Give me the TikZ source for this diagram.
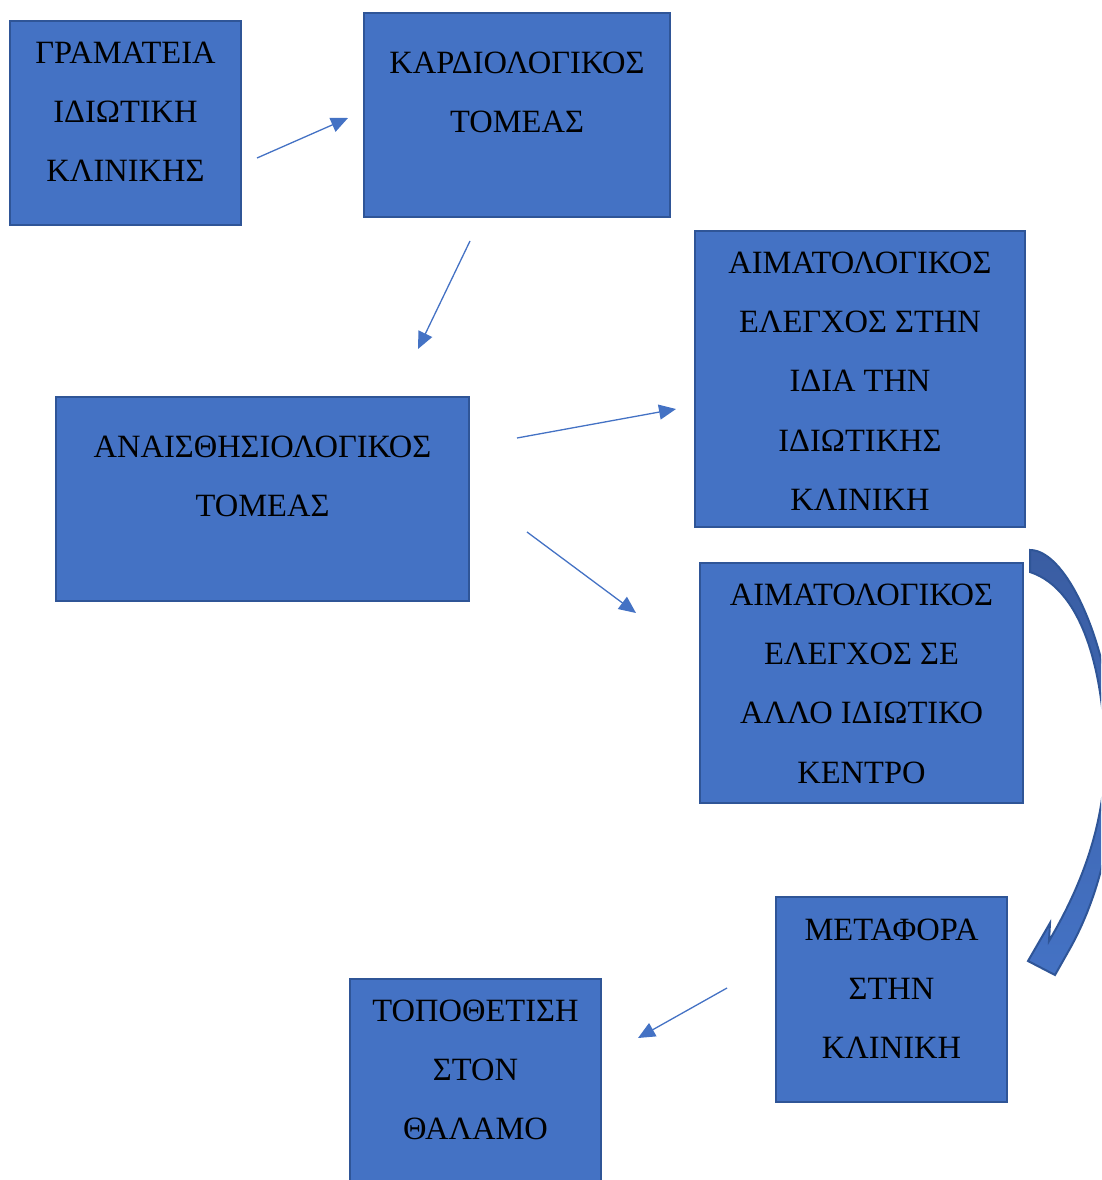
\documentclass[tikz,border=0pt]{standalone}
\usepackage{fontspec}
\setmainfont{Liberation Serif}
\usetikzlibrary{arrows.meta}
\definecolor{boxfill}{HTML}{4472C4}
\definecolor{boxline}{HTML}{2F5597}
\definecolor{bendtop}{HTML}{3A5DA2}
\begin{document}
\begin{tikzpicture}[x=1pt,y=-1pt,
  panel/.style={draw=boxline, fill=boxfill, line width=2pt, inner sep=0pt, outer sep=0pt},
  caption/.style={anchor=north, align=center, inner sep=0pt, font=\fontsize{32.5}{59.3}\selectfont},
  flow/.style={draw=boxfill, line width=1.3pt, -{Triangle[length=17pt,width=15pt]}}]
\useasboundingbox (0,0) rectangle (1101,1180);
\begin{scope}
\clip (0,0) rectangle (1101,1180);

% boxes
\node[panel, minimum width=231pt, minimum height=204pt] (b1) at (125.5,123) {};
\node[panel, minimum width=306pt, minimum height=204pt] (b2) at (517,115) {};
\node[panel, minimum width=413pt, minimum height=204pt] (b3) at (262.5,499) {};
\node[panel, minimum width=330pt, minimum height=296pt] (b4) at (860,379) {};
\node[panel, minimum width=323pt, minimum height=240pt] (b5) at (861.5,683) {};
\node[panel, minimum width=231pt, minimum height=205pt] (b6) at (891.5,999.5) {};
\node[panel, minimum width=251pt, minimum height=204pt] (b7) at (475.5,1081) {};

% texts
\node[caption] (t1) at (125.5,41.5) {ΓΡΑΜΑΤΕΙΑ\\ΙΔΙΩΤΙΚΗ\\ΚΛΙΝΙΚΗΣ};
\node[caption] (t2) at (517,51.5) {ΚΑΡΔΙΟΛΟΓΙΚΟΣ\\ΤΟΜΕΑΣ};
\node[caption] (t3) at (262.5,435.5) {ΑΝΑΙΣΘΗΣΙΟΛΟΓΙΚΟΣ\\ΤΟΜΕΑΣ};
\node[caption] (t4) at (860,251.5) {ΑΙΜΑΤΟΛΟΓΙΚΟΣ\\ΕΛΕΓΧΟΣ ΣΤΗΝ\\ΙΔΙΑ ΤΗΝ\\ΙΔΙΩΤΙΚΗΣ\\ΚΛΙΝΙΚΗ};
\node[caption] (t5) at (861.5,583.5) {ΑΙΜΑΤΟΛΟΓΙΚΟΣ\\ΕΛΕΓΧΟΣ ΣΕ\\ΑΛΛΟ ΙΔΙΩΤΙΚΟ\\ΚΕΝΤΡΟ};
\node[caption] (t6) at (891.5,918.5) {ΜΕΤΑΦΟΡΑ\\ΣΤΗΝ\\ΚΛΙΝΙΚΗ};
\node[caption] (t7) at (475.5,999.5) {ΤΟΠΟΘΕΤΙΣΗ\\ΣΤΟΝ\\ΘΑΛΑΜΟ};

% free arrow ends
\coordinate (a1s) at (257,158); \coordinate (a1e) at (348,118);
\coordinate (a2s) at (470,241); \coordinate (a2e) at (418,349);
\coordinate (a3s) at (517,438); \coordinate (a3e) at (676,409);
\coordinate (a4s) at (527,532); \coordinate (a4e) at (636,613);
\coordinate (a5s) at (727,988); \coordinate (a5e) at (638,1038);

\draw[flow] (a1s) -- (a1e);
\draw[flow] (a2s) -- (a2e);
\draw[flow] (a3s) -- (a3e);
\draw[flow] (a4s) -- (a4e);
\draw[flow] (a5s) -- (a5e);

% curved block arrow running down the right edge
\path[draw=boxline, line width=2pt, line join=miter, top color=bendtop, bottom color=boxfill, shading angle=0]
  (1030,550) .. controls (1068,550) and (1112,650) .. (1115,755)
  .. controls (1115,840) and (1095,905) .. (1068,952)
  -- (1055,975) -- (1028,961) -- (1050,923) -- (1049,941)
  .. controls (1070,905) and (1104,840) .. (1105,760)
  .. controls (1105,680) and (1085,590) .. (1030,572)
  -- cycle;
\end{scope}
\end{tikzpicture}
\end{document}
